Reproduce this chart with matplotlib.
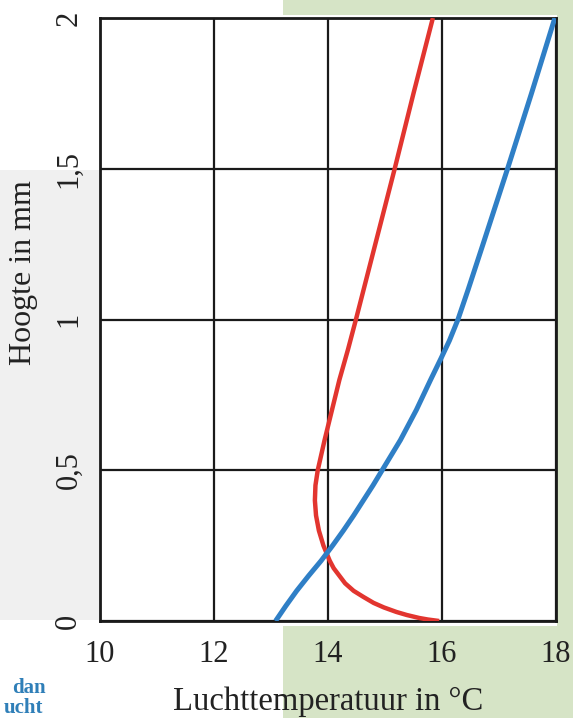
import matplotlib
matplotlib.use("Agg")
import matplotlib.pyplot as plt
from matplotlib.patches import Rectangle

# Data (height in mm, temperature in °C)
red_height = [0.0, 0.005, 0.01, 0.02, 0.03, 0.045, 0.06, 0.08, 0.10, 0.125, 0.15, 0.175,
              0.20, 0.25, 0.30, 0.35, 0.40, 0.45, 0.50, 0.60, 0.70, 0.80, 0.90,
              1.00, 1.25, 1.50, 1.75, 2.00]
red_temp = [15.95, 15.75, 15.6, 15.38, 15.2, 14.98, 14.8, 14.62, 14.45, 14.3, 14.2, 14.1,
            14.03, 13.92, 13.84, 13.79, 13.77, 13.78, 13.82, 13.94, 14.07, 14.2, 14.35,
            14.49, 14.83, 15.17, 15.5, 15.84]

blue_height = [0.0, 0.05, 0.1, 0.15, 0.2, 0.25, 0.3, 0.35, 0.4, 0.45, 0.5, 0.6, 0.7, 0.8, 0.87,
               0.93, 1.0, 1.1, 1.25, 1.5, 1.75, 2.0]
blue_temp = [13.08, 13.26, 13.45, 13.66, 13.88, 14.08, 14.27, 14.45, 14.62, 14.79, 14.95,
             15.27, 15.55, 15.8, 15.98, 16.13, 16.28, 16.46, 16.72, 17.15, 17.57, 17.98]

x_ticks = [10, 12, 14, 16, 18]
x_tick_labels = ["10", "12", "14", "16", "18"]
y_ticks = [0, 0.5, 1, 1.5, 2]
y_tick_labels = ["0", "0,5", "1", "1,5", "2"]

plt.rcParams['font.family'] = ['Liberation Serif', 'DejaVu Serif']

W, H = 573, 718
fig = plt.figure(figsize=(W / 100, H / 100), dpi=100)
fig.patch.set_facecolor('white')

# scanned page background regions
green = '#d6e4c6'
for (x0, y0, w, h, c) in [
        (283, 626, 573 - 283, 718 - 626, green),
        (283, 0, 573 - 283, 15, green),
        (557, 0, 16, 718, green),
        (0, 170, 100, 450, '#f0f0f0')]:
    fig.patches.append(Rectangle((x0 / W, 1 - (y0 + h) / H), w / W, h / H,
                                 transform=fig.transFigure, facecolor=c,
                                 edgecolor='none', zorder=-5))

ax = fig.add_axes([100 / W, 1 - 621 / H, 456 / W, 603 / H])
ax.set_zorder(5)
ax.set_facecolor('white')
ax.set_xlim(10, 18)
ax.set_ylim(0, 2)

ax.set_xticks(x_ticks)
ax.set_xticklabels(x_tick_labels)
ax.set_yticks(y_ticks)
ax.set_yticklabels(y_tick_labels, rotation=90, va='center')
ax.tick_params(axis='x', length=0, pad=14, labelsize=22, colors='#222222')
ax.tick_params(axis='y', length=0, pad=12, labelsize=22, colors='#222222')
ax.grid(True, color='#1a1a1a', linewidth=1.6)
ax.set_axisbelow(True)
for s in ax.spines.values():
    s.set_color('#1a1a1a')
    s.set_linewidth(2.0)

ax.plot(red_temp, red_height, color='#e2352f', linewidth=3.2, solid_capstyle='butt',
        solid_joinstyle='round', zorder=3)
ax.plot(blue_temp, blue_height, color='#2f7fc6', linewidth=3.6, solid_capstyle='butt',
        solid_joinstyle='round', zorder=4)

fig.text(328 / W, 1 - 710 / H, "Luchttemperatuur in °C", fontsize=23.5, color='#222222',
         ha='center', va='baseline', zorder=6)
fig.text(24 / W, 1 - 273 / H, "Hoogte in mm", fontsize=23, color='#222222',
         ha='center', va='center', rotation=90, zorder=6)

fig.text(29 / W, 1 - 688 / H, "dan", fontsize=15, fontweight='bold', color='#2f7fb8',
         ha='center', va='center')
fig.text(23 / W, 1 - 708 / H, "ucht", fontsize=15, fontweight='bold', color='#2f7fb8',
         ha='center', va='center')

fig.savefig("out.png", dpi=100, facecolor=fig.get_facecolor())
